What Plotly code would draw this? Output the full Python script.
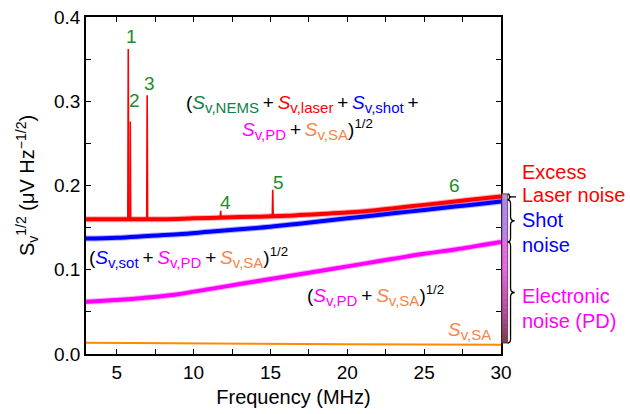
import numpy as np
import plotly.graph_objects as go

# Noise floor traces (frequency in MHz, amplitude in uV/Hz^1/2)
f_red = [3, 4, 6, 8, 10, 12, 14, 16, 18, 20, 22, 24, 26, 28, 30]
v_red = [0.160, 0.160, 0.160, 0.160, 0.161, 0.162, 0.163, 0.164, 0.166, 0.168, 0.171, 0.175, 0.179, 0.183, 0.187]

f_blue = [3, 5, 7, 9, 11, 13, 15, 17, 19, 21, 23, 25, 27, 29, 30]
v_blue = [0.137, 0.138, 0.140, 0.142, 0.145, 0.148, 0.151, 0.155, 0.159, 0.163, 0.167, 0.171, 0.175, 0.179, 0.181]

f_mag = [3, 5, 7, 9, 11, 13, 15, 17, 19, 21, 23, 25, 27, 29, 30]
v_mag = [0.062, 0.064, 0.067, 0.071, 0.077, 0.083, 0.089, 0.095, 0.101, 0.107, 0.113, 0.119, 0.124, 0.130, 0.133]

f_org = [3, 10, 20, 30]
v_org = [0.0135, 0.0125, 0.0115, 0.011]

# NEMS resonance peaks on top of the red trace
peak_f = [5.75, 5.88, 6.98, 11.76, 15.15]
peak_v = [0.362, 0.276, 0.307, 0.170, 0.195]
peak_base = [0.160, 0.160, 0.160, 0.162, 0.164]
peak_lbl = ["1", "2", "3", "4", "5", "6"]
peak_lbl_f = [5.95, 6.15, 7.1, 12.05, 15.55, 27.0]
peak_lbl_v = [0.377, 0.301, 0.321, 0.180, 0.203, 0.200]

# Stacked noise budget at 30 MHz
lvl_top = 0.190
lvl_shot = 0.183
lvl_pd = 0.133
lvl_sa = 0.013

FONT = "Liberation Sans, Arial, sans-serif"
RED, BLUE, MAG, ORG = "#ff0000", "#0000ff", "#ff00ff", "#ff8a00"
SA_TXT = "#f7844a"
GREEN = "#1e8c2a"

fig = go.Figure()

def band(f, v, color, w):
    fig.add_trace(go.Scatter(x=f, y=v, mode="lines", line=dict(color=color, width=w + 2, shape="spline"),
                             opacity=0.3, hoverinfo="skip", showlegend=False))
    fig.add_trace(go.Scatter(x=f, y=v, mode="lines", line=dict(color=color, width=w, shape="spline"),
                             hoverinfo="skip", showlegend=False))

band(f_red, v_red, RED, 4)

# spikes
sx, sy = [], []
for f, v, b in zip(peak_f, peak_v, peak_base):
    sx += [f - 0.03, f, f + 0.03, None]
    sy += [b, v, b, None]
fig.add_trace(go.Scatter(x=sx, y=sy, mode="lines", line=dict(color=RED, width=1.6),
                         hoverinfo="skip", showlegend=False))

band(f_blue, v_blue, BLUE, 4)
band(f_mag, v_mag, MAG, 4)
fig.add_trace(go.Scatter(x=f_org, y=v_org, mode="lines", line=dict(color=ORG, width=2),
                         hoverinfo="skip", showlegend=False))

ann = []
for t, x, y in zip(peak_lbl, peak_lbl_f, peak_lbl_v):
    ann.append(dict(x=x, y=y, text=t, showarrow=False, font=dict(color=GREEN, size=19)))

SP = "\u2009"
PLUS = SP + "+" + SP

def c(col, s):
    return (f'<span style="color:{col}"><i>S</i><sub><span style="font-size:15px">{s}</span></sub></span>')

ann += [
    dict(x=9.4, y=0.297, xanchor="left", text="(" + c("#10804a", "v,NEMS") + PLUS + c(RED, "v,laser")
         + PLUS + c(BLUE, "v,shot") + SP + "+", showarrow=False),
    dict(x=13.0, y=0.266, xanchor="left", text=c(MAG, "v,PD") + PLUS + c(SA_TXT, "v,SA") + ")<sup>1/2</sup>",
         showarrow=False),
    dict(x=3.05, y=0.114, xanchor="left", text="(" + c(BLUE, "v,sot") + PLUS + c(MAG, "v,PD") + PLUS
         + c(SA_TXT, "v,SA") + ")<sup>1/2</sup>", showarrow=False),
    dict(x=17.25, y=0.069, xanchor="left", text="(" + c(MAG, "v,PD") + PLUS + c(SA_TXT, "v,SA")
         + ")<sup>1/2</sup>", showarrow=False),
    dict(x=26.4, y=0.027, xanchor="left", text=c(SA_TXT, "v,SA"), showarrow=False),
]

side = [("Excess", RED, 0.216), ("Laser noise", RED, 0.189), ("Shot", BLUE, 0.159),
        ("noise", BLUE, 0.129), ("Electronic", MAG, 0.069), ("noise (PD)", MAG, 0.039)]
for t, col, y in side:
    ann.append(dict(x=1.045, xref="paper", y=y, yref="y", xanchor="left", text=t,
                    showarrow=False, font=dict(color=col, size=20)))

# gradient bar beside the right axis
stops = [(lvl_sa, (122, 58, 72)), (0.05, (180, 72, 160)), (0.10, (230, 100, 230)),
         (lvl_pd, (232, 104, 236)), (0.140, (186, 128, 240)), (lvl_shot, (165, 136, 240)),
         (0.1835, (196, 140, 210)), (lvl_top, (196, 140, 205))]
ys = np.linspace(lvl_sa, lvl_top, 60)
sys_ = [s[0] for s in stops]
shapes = []
for y0, y1 in zip(ys[:-1], ys[1:]):
    ym = 0.5 * (y0 + y1)
    rgb = [int(np.interp(ym, sys_, [s[1][k] for s in stops])) for k in range(3)]
    shapes.append(dict(type="rect", xref="paper", yref="y", x0=1.002, x1=1.016, y0=y0, y1=y1 + 0.0005,
                       fillcolor=f"rgb({rgb[0]},{rgb[1]},{rgb[2]})", line=dict(width=0), layer="above"))
shapes.append(dict(type="rect", xref="paper", yref="y", x0=1.002, x1=1.016, y0=lvl_sa, y1=lvl_top,
                   line=dict(color="#5a3a3a", width=0.8), layer="above"))

def brace(top, bot, x0=1.016, x1=1.023, x2=1.033, d=0.005):
    mid = 0.5 * (top + bot)
    d = min(d, (top - bot) / 4)
    p = (f"M {x0},{top} Q {x1},{top} {x1},{top-d} L {x1},{mid+d} Q {x1},{mid} {x2},{mid} "
         f"Q {x1},{mid} {x1},{mid-d} L {x1},{bot+d} Q {x1},{bot} {x0},{bot}")
    return dict(type="path", path=p, xref="paper", yref="y", line=dict(color="black", width=1.3),
                layer="above")

shapes.append(brace(lvl_top, lvl_shot, x1=1.02, x2=1.024))
shapes.append(dict(type="line", xref="paper", yref="y", x0=1.02, x1=1.036,
                   y0=0.5 * (lvl_top + lvl_shot), y1=0.5 * (lvl_top + lvl_shot),
                   line=dict(color="black", width=1.3)))
shapes.append(brace(lvl_shot, lvl_pd))
shapes.append(brace(lvl_pd, lvl_sa))

axis_common = dict(showline=True, linecolor="black", linewidth=1.5, mirror="ticks",
                   ticks="inside", ticklen=5, tickwidth=1.2, tickcolor="black",
                   showgrid=False, zeroline=False, automargin=False,
                   tickfont=dict(size=19, color="black", family=FONT))

fig.update_layout(
    width=630, height=414,
    margin=dict(l=86, r=129, t=17, b=60),
    paper_bgcolor="white", plot_bgcolor="white",
    font=dict(family=FONT, size=19, color="black"),
    xaxis=dict(range=[3, 30], dtick=5, tick0=0,
               minor=dict(dtick=2.5, ticks="inside", ticklen=5, tickcolor="black"),
               title=dict(text="Frequency (MHz)", font=dict(size=20), standoff=8), **axis_common),
    yaxis=dict(range=[0, 0.4], dtick=0.1, tickformat=".1f",
               minor=dict(dtick=0.05, ticks="inside", ticklen=5, tickcolor="black"),
               title=dict(text="S<sub>v</sub><sup>1/2</sup> (μV Hz<sup>−1/2</sup>)", font=dict(size=20),
                          standoff=14), **axis_common),
    annotations=ann,
    shapes=shapes,
    showlegend=False,
)

fig.write_html("out.html")
